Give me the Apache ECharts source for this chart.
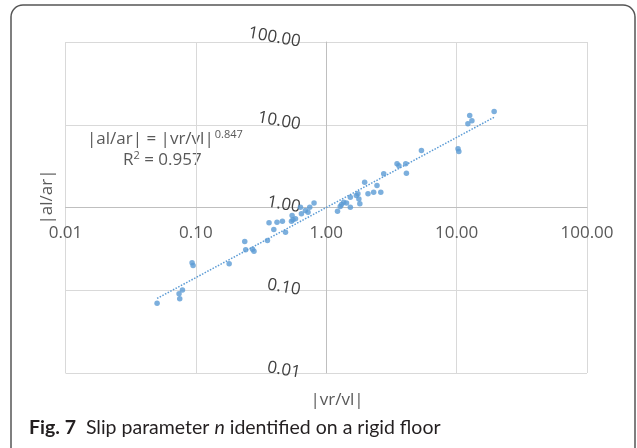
<!DOCTYPE html>
<html>
<head>
<meta charset="utf-8">
<script src="https://cdn.jsdelivr.net/npm/echarts@6.0.0/dist/echarts.min.js"></script>
<style>
  html, body { margin: 0; padding: 0; background: #fff; }
  #chart { width: 637px; height: 448px; }
</style>
</head>
<body>
<div id="chart"></div>
<script>
// |vr/vl| and |al/ar|
const ratioV = [
  0.0504, 0.0743, 0.0752, 0.0789, 0.0935, 0.0952, 0.180, 0.237, 0.241, 0.272,
  0.279, 0.354, 0.364, 0.419, 0.461, 0.396, 0.487, 0.541, 0.547, 0.556,
  0.581, 0.645, 0.634, 0.692, 0.725, 0.747, 0.806,
  1.22, 1.28, 1.31, 1.36, 1.43, 1.53, 1.53, 1.70, 1.75, 1.78,
  1.81, 1.97, 2.09, 2.31, 2.45, 2.62, 2.76, 3.49, 3.61, 4.07,
  4.12, 5.37, 10.25, 10.4, 12.2, 12.6, 13.1, 19.4
];
const ratioA = [
  0.0697, 0.0906, 0.0788, 0.101, 0.215, 0.199, 0.209, 0.388, 0.308, 0.313,
  0.296, 0.399, 0.653, 0.664, 0.683, 0.542, 0.503, 0.683, 0.800, 0.710,
  0.730, 0.839, 1.01, 0.920, 0.877, 1.01, 1.13,
  0.902, 1.03, 1.09, 1.16, 1.13, 1.01, 1.33, 1.40, 1.47, 1.27,
  1.11, 2.02, 1.47, 1.53, 1.85, 1.53, 2.55, 3.37, 3.19, 3.37,
  2.60, 4.89, 5.12, 4.75, 10.3, 12.9, 11.2, 14.5
];

// power trendline |al/ar| = |vr/vl|^0.847, drawn over the data range
const trendExp = 0.847;
const trendR2 = 0.957;
const trendX = [0.0504, 19.4];

const points = ratioV.map((v, i) => [v, ratioA[i]]);
const trend = trendX.map((v) => [v, Math.pow(v, trendExp)]);

const font = "'Open Sans', 'Noto Sans', sans-serif";
const chart = echarts.init(document.getElementById("chart"));

chart.setOption({
  animation: false,
  backgroundColor: "#fff",
  grid: { left: 65.5, top: 42, width: 521.5, height: 331 },
  xAxis: {
    type: "log",
    logBase: 10,
    min: 0.01,
    max: 100,
    position: "bottom",
    offset: -166,
    axisLine: { show: true, lineStyle: { color: "#bfbfbf", width: 1 } },
    axisTick: { show: false },
    splitLine: { show: true, lineStyle: { color: "#d9d9d9", width: 1 } },
    axisLabel: {
      formatter: (v) => v.toFixed(2),
      color: "#595959",
      fontSize: 17,
      fontFamily: font,
      margin: 18,
    },
  },
  yAxis: {
    type: "log",
    logBase: 10,
    min: 0.01,
    max: 100,
    position: "left",
    offset: -261,
    axisLine: { show: true, lineStyle: { color: "#bfbfbf", width: 1 } },
    axisTick: { show: false },
    splitLine: { show: true, lineStyle: { color: "#d9d9d9", width: 1 } },
    axisLabel: {
      formatter: (v) => v.toFixed(2),
      color: "#404040",
      fontSize: 17,
      fontFamily: font,
      rotate: -10,
      margin: 26,
    },
  },
  series: [
    {
      type: "scatter",
      data: points,
      symbolSize: 5.5,
      itemStyle: { color: "#5b9bd5" },
      z: 3,
    },
    {
      type: "line",
      data: trend,
      symbol: "none",
      lineStyle: { color: "#5b9bd5", width: 1.5, type: [1.5, 1.5] },
      z: 2,
    },
  ],
  graphic: [
    {
      type: "rect",
      shape: { x: 11, y: 5, width: 624, height: 470, r: 12 },
      style: { fill: "none", stroke: "#555", lineWidth: 1.5 },
      silent: true,
    },
    {
      type: "text",
      x: 47,
      y: 197,
      rotation: Math.PI / 2,
      style: {
        text: "|al/ar|",
        fill: "#595959",
        font: "17px " + font,
        align: "center",
        verticalAlign: "middle",
      },
    },
    {
      type: "text",
      x: 337,
      y: 400,
      style: {
        text: "|vr/vl|",
        fill: "#595959",
        font: "17px " + font,
        align: "center",
        verticalAlign: "middle",
      },
    },
    {
      type: "text",
      x: 87,
      y: 139,
      style: {
        text: "{m||al/ar| = |vr/vl|}{s|" + trendExp.toFixed(3) + "}",
        fill: "#595959",
        verticalAlign: "middle",
        rich: {
          m: { font: "17px " + font, fill: "#595959", lineHeight: 22 },
          s: { font: "11px " + font, fill: "#595959", lineHeight: 22, padding: [0, 0, 9, 1] },
        },
      },
    },
    {
      type: "text",
      x: 123,
      y: 160,
      style: {
        text: "{m|R}{s|2}{m| = " + trendR2.toFixed(3) + "}",
        fill: "#595959",
        verticalAlign: "middle",
        rich: {
          m: { font: "17px " + font, fill: "#595959", lineHeight: 22 },
          s: { font: "11px " + font, fill: "#595959", lineHeight: 22, padding: [0, 0, 8, 0] },
        },
      },
    },
    {
      type: "text",
      x: 29,
      y: 428,
      style: {
        text: "{b|Fig. 7}{r|  Slip parameter }{i|n}{r| identified on a rigid floor}",
        verticalAlign: "middle",
        rich: {
          b: { font: "bold 19.5px Lato, sans-serif", fill: "#231f20" },
          r: { font: "19.5px Lato, sans-serif", fill: "#231f20" },
          i: { font: "italic 19.5px Lato, sans-serif", fill: "#231f20" },
        },
      },
    },
  ],
});
</script>
</body>
</html>
